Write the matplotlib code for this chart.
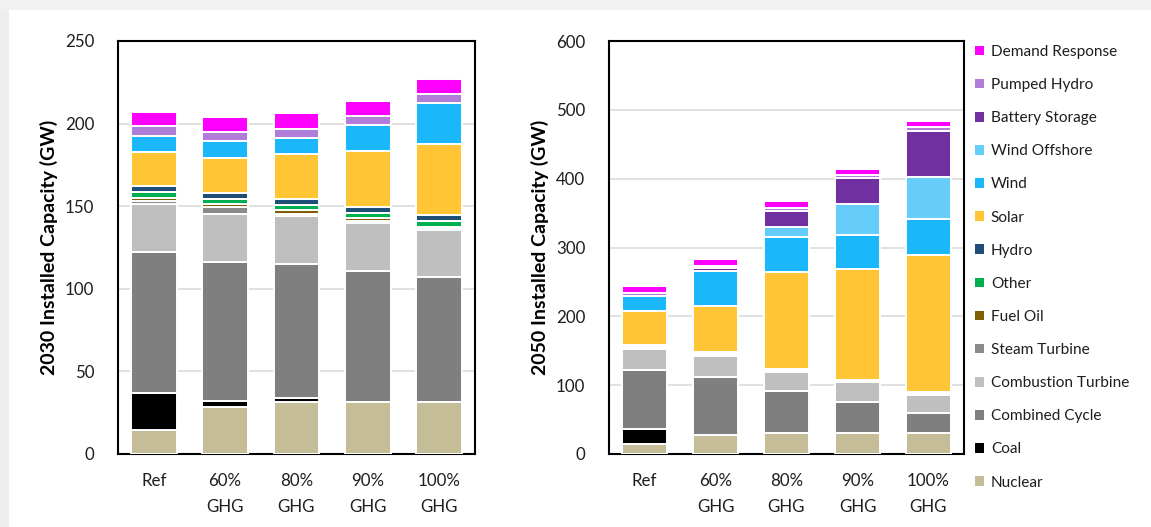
import numpy as np
import matplotlib
matplotlib.use("Agg")
import matplotlib.pyplot as plt
from matplotlib.patches import Rectangle, Patch

plt.rcParams['font.family'] = ['Lato', 'DejaVu Sans']

# ---------------- data ----------------
scenarios = ['Ref', '60%\nGHG', '80%\nGHG', '90%\nGHG', '100%\nGHG']

techs = ['Nuclear', 'Coal', 'Combined Cycle', 'Combustion Turbine', 'Steam Turbine',
         'Fuel Oil', 'Other', 'Hydro', 'Solar', 'Wind', 'Wind Offshore',
         'Battery Storage', 'Pumped Hydro', 'Demand Response']

tech_colors = ['#c4bd97', '#000000', '#7f7f7f', '#bfbfbf', '#8a8a8a',
               '#7f6000', '#00b050', '#1f4e79', '#ffc535', '#1ab7fa', '#66cdfb',
               '#7030a0', '#b07ed8', '#ff00ff']

# 2030 installed capacity (GW), one list per technology, order = scenarios
nuclear_2030   = [14.5, 28.6, 31.6, 31.4, 31.4]
coal_2030      = [22.7, 3.4, 2.0, 0.0, 0.0]
cc_2030        = [84.9, 84.0, 81.4, 79.1, 75.7]
ct_2030        = [29.4, 29.0, 29.2, 29.1, 28.4]
steam_2030     = [1.6, 4.7, 1.2, 1.5, 1.2]
fueloil_2030   = [1.8, 1.6, 2.0, 1.5, 0.8]
other_2030     = [3.8, 3.2, 3.5, 3.4, 3.6]
hydro_2030     = [3.6, 3.5, 3.4, 3.4, 3.4]
solar_2030     = [20.5, 21.2, 27.4, 34.1, 43.2]
wind_2030      = [9.9, 10.0, 9.8, 15.5, 24.8]
offshore_2030  = [0.0, 0.0, 0.0, 0.0, 0.0]
battery_2030   = [0.0, 0.0, 0.0, 0.0, 0.0]
pumped_2030    = [5.8, 5.8, 5.4, 5.5, 5.7]
dr_2030        = [8.8, 8.9, 9.3, 8.9, 8.7]

# 2050 installed capacity (GW)
nuclear_2050   = [14.0, 27.5, 31.0, 31.0, 31.0]
coal_2050      = [22.5, 0.0, 0.0, 0.0, 0.0]
cc_2050        = [86.0, 85.0, 60.5, 44.5, 28.0]
ct_2050        = [29.5, 30.0, 28.0, 28.5, 26.5]
steam_2050     = [1.5, 1.0, 1.0, 1.0, 1.0]
fueloil_2050   = [0.5, 0.5, 0.5, 0.5, 0.5]
other_2050     = [1.5, 1.0, 0.5, 0.5, 0.5]
hydro_2050     = [3.0, 3.5, 1.5, 2.0, 2.5]
solar_2050     = [49.0, 66.5, 141.5, 161.0, 199.5]
wind_2050      = [21.5, 51.0, 50.5, 49.5, 51.5]
offshore_2050  = [0.0, 0.0, 15.5, 44.5, 62.0]
battery_2050   = [0.0, 3.5, 22.5, 37.5, 66.0]
pumped_2050    = [5.5, 3.5, 4.0, 4.5, 6.0]
dr_2050        = [9.5, 10.5, 10.0, 9.5, 8.5]

series_2030 = [nuclear_2030, coal_2030, cc_2030, ct_2030, steam_2030, fueloil_2030,
               other_2030, hydro_2030, solar_2030, wind_2030, offshore_2030,
               battery_2030, pumped_2030, dr_2030]
series_2050 = [nuclear_2050, coal_2050, cc_2050, ct_2050, steam_2050, fueloil_2050,
               other_2050, hydro_2050, solar_2050, wind_2050, offshore_2050,
               battery_2050, pumped_2050, dr_2050]

W, H = 1151, 527
fig = plt.figure(figsize=(W / 100, H / 100), dpi=100)
fig.patch.set_facecolor('white')

# slide-like light shadow band on top and left
fig.patches.append(Rectangle((0, 0), 9 / W, 1, transform=fig.transFigure,
                             facecolor='#eeeeee', edgecolor='none', zorder=-5))
fig.patches.append(Rectangle((0, 1 - 10 / H), 1, 10 / H, transform=fig.transFigure,
                             facecolor='#f1f1f1', edgecolor='none', zorder=-5))

ax_bottom = 73 / H
ax_height = 413 / H
ax1 = fig.add_axes([118 / W, ax_bottom, 357 / W, ax_height])
ax2 = fig.add_axes([609 / W, ax_bottom, 355 / W, ax_height])

text_color = '#1e1e1e'


def draw(ax, series, ymax, step, ylabel):
    x = np.arange(len(scenarios))
    bottom = np.zeros(len(scenarios))
    for vals, col, name in zip(series, tech_colors, techs):
        v = np.array(vals, dtype=float)
        ax.bar(x, v, width=0.64, bottom=bottom, color=col, edgecolor='white',
               linewidth=1.4, label=name, zorder=3)
        bottom += v
    ax.set_xlim(-0.5, len(scenarios) - 0.5)
    ax.set_ylim(0, ymax)
    ax.set_yticks(np.arange(0, ymax + 1, step))
    ax.set_xticks(x)
    ax.set_xticklabels(scenarios, fontsize=12.2, color=text_color, linespacing=1.72)
    ax.tick_params(axis='both', length=0, labelsize=12.2, colors=text_color)
    ax.tick_params(axis='y', pad=17)
    ax.tick_params(axis='x', pad=14)
    ax.yaxis.grid(True, color='#d9d9d9', linewidth=1.1, zorder=0)
    ax.set_axisbelow(True)
    for s in ax.spines.values():
        s.set_color('black')
        s.set_linewidth(1.5)
    ax.set_ylabel(ylabel, fontsize=14, fontweight='bold', color='black', labelpad=5)


draw(ax1, series_2030, 250, 50, '2030 Installed Capacity (GW)')
draw(ax2, series_2050, 600, 100, '2050 Installed Capacity (GW)')

handles = [Patch(facecolor=c, edgecolor='none', label=n) for n, c in zip(techs, tech_colors)]
handles = handles[::-1]
fig.legend(handles=handles, loc='upper left', bbox_to_anchor=(975 / W, 1 - 45 / H),
           frameon=False, fontsize=11.1, handlelength=0.58, handleheight=0.58,
           handletextpad=0.45, labelspacing=1.24, borderpad=0, borderaxespad=0,
           labelcolor=text_color)

fig.savefig('out.png', dpi=100, facecolor='white')
